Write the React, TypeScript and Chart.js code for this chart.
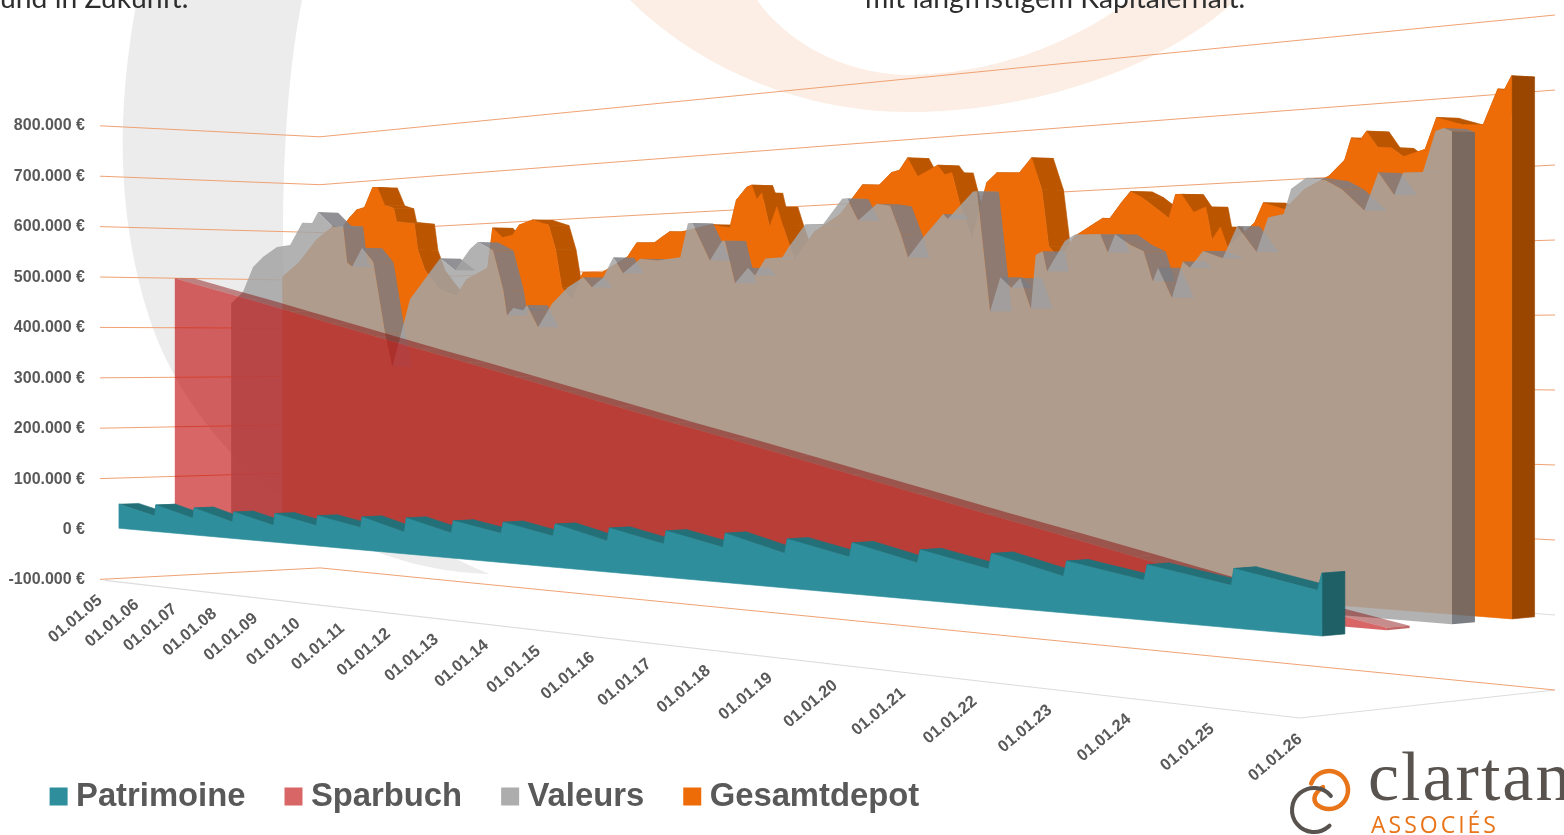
import React, { useEffect, useRef } from "react";
import { Chart, registerables } from "chart.js";

Chart.register(...registerables);

const seriesNames = ["Patrimoine", "Sparbuch", "Valeurs", "Gesamtdepot"];

const patrimoineYears = [2005,2005.97,2006,2006.97,2007,2007.97,2008,2008.97,2009,2009.97,2010,2010.97,2011,2011.92,2011.96,2012.9,2012.94,2013.9,2013.94,2014.9,2014.94,2015.9,2015.94,2016.9,2016.94,2017.9,2017.94,2018.9,2018.94,2019.9,2019.94,2020.9,2020.94,2021.9,2021.94,2022.9,2022.94,2023.92,2023.96,2024.97,2025,2025.95,2026];
const patrimoineK = [48,30,52,32,52,31,50,31,53,37,55,40,59,38,63,43,64,49,68,51,71,50,71,52,73,54,76,52,74,54,75,53,72,52,74,50,71,53,74,55,77,57,79];

const sparbuchYears = [2005,2006,2007,2008,2009,2010,2011,2012,2013,2014,2015,2016,2017,2018,2019,2020,2021,2022,2023,2024,2025,2026];
const sparbuchK = [500,476,453,429,405,381,357,334,310,286,262,238,215,191,167,143,119,96,72,48,24,3];

const valeursYears = [2005,2005.32,2005.59,2005.86,2006.22,2006.56,2006.87,2007.12,2007.27,2007.64,2007.89,2007.99,2008.11,2008.35,2008.62,2008.9,2009.07,2009.48,2009.94,2010.17,2010.5,2010.83,2011,2011.33,2011.55,2011.63,2011.76,2011.97,2012.05,2012.28,2012.57,2012.89,2013.2,2013.37,2013.59,2013.79,2013.98,2014.31,2014.63,2015.06,2015.2,2015.28,2015.6,2015.82,2015.87,2016.05,2016.28,2016.4,2016.58,2016.87,2016.97,2017.26,2017.56,2017.87,2017.95,2018.13,2018.43,2018.64,2018.81,2018.92,2019.15,2019.46,2019.53,2019.91,2019.97,2020.16,2020.31,2020.47,2020.6,2020.75,2020.82,2020.92,2020.98,2021.23,2021.37,2021.72,2021.82,2021.92,2022.12,2022.3,2022.42,2022.49,2022.67,2022.81,2022.9,2023.07,2023.32,2023.5,2023.74,2023.88,2024.07,2024.16,2024.34,2024.57,2024.76,2025.02,2025.18,2025.36,2025.46,2025.68,2025.82,2025.91,2026];
const valeursK = [450,473,523,543,561,564,607,605,626,595,596,525,516,552,524,387,323,451,501,526,503,541,553,537,464,418,431,427,436,396,438,466,483,465,481,516,488,512,508,512,569,569,505,537,537,466,491,478,505,506,521,558,557,596,596,560,585,581,535,499,529,564,556,596,596,414,465,449,463,417,497,502,472,516,525,524,497,523,507,497,454,473,430,481,472,495,484,528,491,538,542,576,590,585,572,542,592,561,590,589,642,645,640];

const gesamtYears = [2005,2005.45,2005.9,2006.32,2006.57,2006.75,2006.93,2007.13,2007.33,2007.45,2007.63,2007.85,2007.92,2008.35,2008.43,2008.6,2008.95,2009.34,2009.57,2010.05,2010.16,2010.38,2010.6,2010.75,2011.04,2011.38,2011.53,2011.66,2011.87,2012.1,2012.49,2013.01,2013.19,2013.54,2013.68,2013.83,2014.07,2014.63,2014.97,2015.09,2015.28,2015.37,2015.46,2015.55,2015.69,2015.82,2015.92,2016.13,2016.48,2016.91,2017.13,2017.29,2017.57,2017.77,2017.9,2018.03,2018.19,2018.51,2018.62,2018.73,2018.85,2019.04,2019.27,2019.42,2019.76,2019.94,2020.09,2020.19,2020.35,2020.57,2020.85,2020.96,2021.06,2021.23,2021.35,2021.5,2021.87,2021.96,2022.04,2022.2,2022.36,2022.44,2022.55,2022.64,2022.99,2023.1,2023.37,2023.61,2023.91,2024.1,2024.18,2024.29,2024.36,2024.49,2024.65,2024.79,2025.04,2025.17,2025.46,2025.69,2025.85,2025.92,2026];
const gesamtK = [506,535,579,604,602,620,635,639,677,677,641,634,607,601,550,510,471,458,489,510,585,566,570,588,596,585,539,469,446,495,494,521,545,544,553,562,561,571,564,611,632,635,610,621,563,596,565,505,551,577,604,624,622,641,644,663,632,648,632,635,587,528,616,630,628,650,600,513,493,527,545,552,551,575,590,581,548,582,582,555,562,514,532,503,536,564,553,580,597,618,648,645,656,633,631,618,626,668,656,654,700,698,716];

const xMin = 2005;
const xMax = 2026;
const yMin = -100000;
const yMax = 800000;
const yStep = 100000;

const toPoints = (xs: number[], ks: number[]) => xs.map((x, i) => ({ x, y: ks[i] * 1000 }));

const K = 1.58;
const THICK = 0.09;
function project(u: number, value: number, d: number) {
  const s = u / (K * (1 - u) + u);
  const bx0 = 100 + 220 * d, by0 = 529 - 9 * d;
  const bx1 = 1300 + 255 * d, by1 = 638 - 23 * d;
  const h0 = 50.4 - 2.5 * d, h1 = 80 - 5 * d;
  const h = h0 + (h1 - h0) * s;
  return { x: bx0 + (bx1 - bx0) * s, y: by0 + (by1 - by0) * s - (h * value) / 100000 };
}

const styles: Record<string, any> = {
  Patrimoine: { d: 0.086, front: "#2e8e9c", side: "#237078", flat: "#237078", cap: "#1f5f66", opaque: true },
  Sparbuch: { d: 0.34, front: "rgba(192,0,0,0.6)", side: "rgba(130,0,0,0.45)", flat: "rgba(130,0,0,0.45)", cap: "rgba(150,0,0,0.6)", opaque: false },
  Valeurs: { d: 0.596, front: "rgba(165,165,165,0.85)", side: "rgba(125,125,130,0.85)", flat: "rgba(150,150,150,0.85)", cap: "rgba(100,105,110,0.85)", opaque: false },
  Gesamtdepot: { d: 0.83, front: "#ed6c08", side: "#bb5500", flat: "#bb5500", cap: "#9a4600", opaque: true },
};

function poly(ctx: CanvasRenderingContext2D, pts: { x: number; y: number }[], fill: string, seal: boolean) {
  ctx.beginPath();
  pts.forEach((p, i) => (i ? ctx.lineTo(p.x, p.y) : ctx.moveTo(p.x, p.y)));
  ctx.closePath();
  ctx.fillStyle = fill;
  ctx.fill();
  if (seal) {
    ctx.strokeStyle = fill;
    ctx.lineWidth = 0.6;
    ctx.stroke();
  }
}

const perspectivePlugin = {
  id: "perspective",
  beforeDraw(chart: any) {
    const ctx: CanvasRenderingContext2D = chart.ctx;
    ctx.save();
    ctx.fillStyle = "#fff";
    ctx.fillRect(0, 0, chart.width, chart.height);
    // grey crescent
    ctx.beginPath();
    ctx.moveTo(137, 0);
    ctx.bezierCurveTo(118, 100, 114, 210, 150, 320);
    ctx.bezierCurveTo(190, 440, 320, 570, 490, 574);
    ctx.bezierCurveTo(350, 520, 283, 400, 283, 240);
    ctx.bezierCurveTo(283, 140, 290, 60, 302, 0);
    ctx.closePath();
    ctx.fillStyle = "#ececec";
    ctx.fill();
    // peach crescent
    ctx.beginPath();
    ctx.moveTo(630, 0);
    ctx.bezierCurveTo(690, 60, 790, 112, 910, 112);
    ctx.bezierCurveTo(1030, 112, 1160, 70, 1236, 0);
    ctx.lineTo(1130, 0);
    ctx.bezierCurveTo(1070, 45, 990, 75, 905, 75);
    ctx.bezierCurveTo(840, 73, 785, 40, 757, 0);
    ctx.closePath();
    ctx.fillStyle = "#fceee4";
    ctx.fill();
    // clipped heading lines
    ctx.fillStyle = "#2e2e2e";
    ctx.font = "28.3px Lato, 'Open Sans', sans-serif";
    ctx.textBaseline = "alphabetic";
    ctx.textAlign = "left";
    ctx.fillText("und in Zukunft.", 0, 8);
    ctx.fillText("mit langfristigem Kapitalerhalt.", 865, 8);
    ctx.restore();
  },
  beforeDatasetsDraw(chart: any) {
    const ctx: CanvasRenderingContext2D = chart.ctx;
    const xs = chart.scales.x;
    const ys = chart.scales.y;
    ctx.save();
    // floor edges
    ctx.strokeStyle = "#dddddd";
    ctx.lineWidth = 1.2;
    const fa = project(0, yMin, 0), fd = project(1, yMin, 0), fc = project(1, yMin, 1);
    ctx.beginPath();
    ctx.moveTo(fa.x + 5, fa.y + 1);
    ctx.lineTo(fd.x, fd.y);
    ctx.lineTo(fc.x, fc.y);
    ctx.stroke();
    // walls
    ctx.lineWidth = 1;
    ys.ticks.forEach((tick: any) => {
      if (tick.value === 0) return;
      const a = project(0, tick.value, 0), b = project(0, tick.value, 1), c = project(1, tick.value, 1);
      ctx.strokeStyle = "#f0a273";
      ctx.beginPath();
      ctx.moveTo(a.x, a.y);
      ctx.lineTo(b.x, b.y);
      ctx.lineTo(c.x, c.y);
      ctx.stroke();
    });
    const z1 = project(0, 0, 1), z2 = project(1, 0, 1);
    ctx.strokeStyle = "#dcdcdc";
    ctx.beginPath();
    ctx.moveTo(z2.x - 40, z1.y + ((z2.y - z1.y) * (z2.x - 40 - z1.x)) / (z2.x - z1.x));
    ctx.lineTo(z2.x, z2.y);
    ctx.stroke();

    // series, back to front
    for (let i = chart.data.datasets.length - 1; i >= 0; i--) {
      const ds = chart.data.datasets[i];
      const st = styles[ds.label];
      const meta = chart.getDatasetMeta(i);
      const front: any[] = [];
      const back: any[] = [];
      meta.data.forEach((el: any) => {
        const u = xs.getDecimalForPixel(el.x);
        const v = ys.getValueForPixel(el.y);
        front.push(project(u, v, st.d));
        back.push(project(u, v, st.d + THICK));
      });
      const base0 = project(0, 0, st.d);
      const base1 = project(1, 0, st.d);
      const base1b = project(1, 0, st.d + THICK);
      const rows = ds.data;
      for (let j = 0; j < front.length - 1; j++) {
        const dv = rows[j + 1].y - rows[j].y;
        const fill = dv < -2000 ? st.side : st.flat;
        if (st.opaque || dv <= 2000) {
          poly(ctx, [front[j], front[j + 1], back[j + 1], back[j]], fill, st.opaque);
        }
      }
      poly(ctx, [front[front.length - 1], back[back.length - 1], base1b, base1], st.cap, st.opaque);
      poly(ctx, [...front, base1, base0], st.front, st.opaque);
    }
    ctx.restore();
  },
  afterDraw(chart: any) {
    const ctx: CanvasRenderingContext2D = chart.ctx;
    const xs = chart.scales.x;
    ctx.save();
    // date labels along the front floor edge
    ctx.fillStyle = "#595959";
    ctx.font = "bold 16.5px 'Liberation Sans', Arial, sans-serif";
    ctx.textAlign = "right";
    ctx.textBaseline = "middle";
    xs.ticks.forEach((tick: any) => {
      const u = xs.getDecimalForPixel(xs.getPixelForValue(tick.value));
      const p = project(u, yMin, 0);
      ctx.save();
      ctx.translate(p.x, p.y + 19);
      ctx.rotate((-40 * Math.PI) / 180);
      ctx.fillText(tick.label, 0, 0);
      ctx.restore();
    });
    // logo
    ctx.lineCap = "round";
    ctx.strokeStyle = "#e8751a";
    ctx.lineWidth = 4.5;
    ctx.beginPath();
    ctx.arc(1329, 790, 19, (-160 * Math.PI) / 180, (130 * Math.PI) / 180);
    ctx.quadraticCurveTo(1310, 796, 1323, 787);
    ctx.stroke();
    ctx.strokeStyle = "#58534f";
    ctx.lineWidth = 4;
    ctx.beginPath();
    ctx.arc(1314, 810, 22, (-40 * Math.PI) / 180, (45 * Math.PI) / 180, true);
    ctx.stroke();
    ctx.textAlign = "left";
    ctx.textBaseline = "alphabetic";
    ctx.fillStyle = "#58534f";
    ctx.font = "70px 'Liberation Serif', serif";
    (ctx as any).letterSpacing = "2px";
    ctx.fillText("clartan", 1368, 800);
    ctx.fillStyle = "#e8751a";
    ctx.font = "23px 'Open Sans', sans-serif";
    (ctx as any).letterSpacing = "3px";
    ctx.fillText("ASSOCIÉS", 1371, 833);
    (ctx as any).letterSpacing = "0px";
    ctx.restore();
  },
};

export default function App() {
  const ref = useRef<HTMLCanvasElement | null>(null);
  useEffect(() => {
    const make = (name: string, xs: number[], ks: number[], color: string) => ({
      label: name,
      data: toPoints(xs, ks),
      backgroundColor: color,
      borderColor: color,
      borderWidth: 0,
      showLine: false,
      pointRadius: 0,
    });
    const chart = new Chart(ref.current as HTMLCanvasElement, {
      type: "line",
      data: {
        datasets: [
          make(seriesNames[0], patrimoineYears, patrimoineK, "#2e8e9c"),
          make(seriesNames[1], sparbuchYears, sparbuchK, "rgba(192,0,0,0.6)"),
          make(seriesNames[2], valeursYears, valeursK, "#adadad"),
          make(seriesNames[3], gesamtYears, gesamtK, "#ed6c08"),
        ],
      },
      options: {
        responsive: false,
        animation: false,
        events: [],
        layout: { padding: { top: 126, left: 10.6, right: 200, bottom: 12 } },
        scales: {
          x: {
            type: "linear",
            display: false,
            min: xMin,
            max: xMax,
            ticks: {
              stepSize: 1,
              autoSkip: false,
              callback: (v: any) => `01.01.${String(Number(v) % 100).padStart(2, "0")}`,
            },
          },
          y: {
            type: "linear",
            min: yMin,
            max: yMax,
            border: { display: false },
            grid: { display: false, drawTicks: false },
            afterFit: (s: any) => {
              s.width = 79.4;
            },
            ticks: {
              stepSize: yStep,
              mirror: true,
              crossAlign: "far",
              padding: -81.5,
              color: "#595959",
              font: { family: "'Liberation Sans', Arial, sans-serif", size: 16, weight: "bold" },
              callback: (v: any) => `${Number(v).toLocaleString("de-DE")} €`,
            },
          },
        },
        plugins: {
          tooltip: { enabled: false },
          legend: {
            position: "bottom",
            align: "start",
            title: { display: true, text: " ", font: { size: 1 }, padding: { top: 152, bottom: 0 } },
            labels: {
              usePointStyle: true,
              pointStyle: "rect",
              boxWidth: 2,
              boxHeight: 18,
              padding: 47,
              color: "#595959",
              font: { family: "'Liberation Sans', Arial, sans-serif", size: 32.8, weight: "bold" },
            },
          },
        },
      } as any,
      plugins: [perspectivePlugin as any],
    });
    return () => chart.destroy();
  }, []);
  return (
    <div style={{ position: "fixed", left: 0, top: 0, width: 1564, height: 835, overflow: "hidden", background: "#fff" }}>
      <canvas ref={ref} width={1564} height={835} style={{ display: "block" }} />
    </div>
  );
}
